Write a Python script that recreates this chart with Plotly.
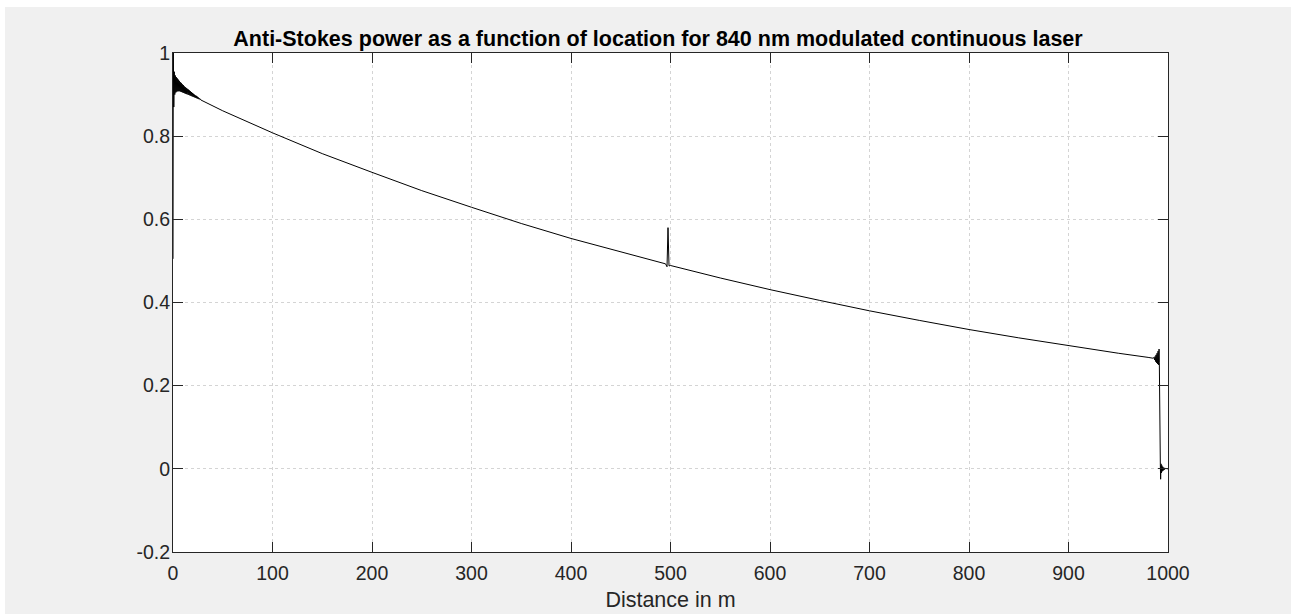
import plotly.graph_objects as go

# ---- data ----
# start-up transient (distance in m, normalised anti-Stokes power)
start_x = [0.0, 0.3, 0.8, 1.3, 1.8, 2.3, 2.8, 3.3, 3.8, 4.3, 4.8, 5.3, 5.8, 6.3, 6.8, 7.3,
           7.8, 8.3, 8.8, 9.3, 9.8, 10.3, 10.8, 11.3, 11.8, 12.3, 12.8, 13.3, 13.8, 14.3,
           15.0, 15.5, 16.0, 16.5, 17.0, 17.5, 18.0, 18.5, 19.0, 19.5, 20.0, 20.5, 21.0,
           21.5, 22.0, 22.5, 23.0, 23.5, 24.0, 24.5, 25.0, 25.5, 26.0, 26.5, 27.0, 27.5, 28.0]
start_y = [0.505, 1.0, 0.870, 0.955, 0.900, 0.946, 0.905, 0.942, 0.907, 0.939, 0.908, 0.936,
           0.908, 0.933, 0.908, 0.930, 0.907, 0.928, 0.906, 0.925, 0.905, 0.923, 0.904, 0.920,
           0.903, 0.918, 0.902, 0.916, 0.901, 0.914, 0.900, 0.912, 0.899, 0.910, 0.898, 0.908,
           0.897, 0.906, 0.896, 0.904, 0.895, 0.902, 0.894, 0.900, 0.893, 0.898, 0.892, 0.897,
           0.891, 0.895, 0.890, 0.893, 0.889, 0.891, 0.888, 0.889, 0.887]

# smooth decay along the fibre, with the reflection spike near 497 m
mid_x = [50, 100, 150, 200, 250, 300, 350, 400, 450, 495, 496.5, 497.5, 498.5, 500,
         550, 600, 650, 700, 750, 800, 850, 900, 950, 980, 985]
mid_y = [0.861, 0.808, 0.758, 0.713, 0.669, 0.629, 0.590, 0.554, 0.521, 0.493, 0.486, 0.580,
         0.488, 0.489, 0.459, 0.431, 0.405, 0.380, 0.357, 0.335, 0.315, 0.296, 0.278, 0.268, 0.266]

# fibre-end transient
end_x = [986.0, 986.5, 987.0, 987.5, 988.0, 988.5, 989.0, 989.5, 990.0, 990.5, 991.0, 991.3,
         992.3, 992.6, 993.0, 993.4, 993.8, 994.2, 994.7, 995.2, 995.8, 996.5, 997.5, 1000.0]
end_y = [0.268, 0.262, 0.270, 0.258, 0.274, 0.255, 0.278, 0.252, 0.283, 0.250, 0.288, 0.255,
         0.010, -0.025, 0.012, -0.010, 0.008, -0.006, 0.005, -0.004, 0.003, -0.002, 0.001, 0.000]

distance = start_x + mid_x + end_x
power = start_y + mid_y + end_y

x_ticks = [0, 100, 200, 300, 400, 500, 600, 700, 800, 900, 1000]
y_ticks = [-0.2, 0, 0.2, 0.4, 0.6, 0.8, 1]
y_tick_text = ["-0.2", "0", "0.2", "0.4", "0.6", "0.8", "1"]

title_text = "Anti-Stokes power as a function of location for 840 nm modulated continuous laser"
x_label = "Distance in m"

FONT = "Liberation Sans, Arial, sans-serif"
AX = "#262626"

fig = go.Figure()
fig.add_trace(go.Scatter(x=distance, y=power, mode="lines",
                         line=dict(color="black", width=1.0), showlegend=False))

axis_common = dict(showline=True, linecolor=AX, linewidth=1, mirror="ticks",
                   ticks="inside", ticklen=10, tickcolor=AX, tickwidth=1,
                   showgrid=True, gridcolor="#d4d4d4", griddash="dot", gridwidth=1,
                   zeroline=False, automargin=False,
                   tickfont=dict(family=FONT, size=19.5, color=AX))

fig.update_xaxes(range=[0, 1000], tickvals=x_ticks, ticktext=[str(v) for v in x_ticks],
                 title=dict(text=x_label, font=dict(family=FONT, size=21.5, color=AX), standoff=8),
                 ticklabelstandoff=4, **axis_common)
fig.update_yaxes(range=[-0.2, 1], tickvals=y_ticks, ticktext=y_tick_text,
                 ticklabelstandoff=-2, **axis_common)

fig.update_layout(
    width=1291, height=614,
    margin=dict(l=173, r=123, t=53, b=62, pad=0),
    paper_bgcolor="#f0f0f0", plot_bgcolor="white",
    title=dict(text="<b>" + title_text + "</b>", x=(658 - 173) / 995, xref="paper",
               xanchor="center", y=1 - 38 / 614, yanchor="middle",
               font=dict(family=FONT, size=21.5, color="black")),
    shapes=[
        dict(type="rect", xref="paper", yref="paper", x0=-0.2, x1=-0.1688, y0=-0.2, y1=1.2,
             fillcolor="white", line=dict(width=0), layer="below"),
        dict(type="rect", xref="paper", yref="paper", x0=-0.2, x1=1.2, y0=1.0922, y1=1.2,
             fillcolor="white", line=dict(width=0), layer="below"),
    ],
)

fig.write_html("out.html", config={"displayModeBar": False},
               post_script=("document.body.style.margin='0';"
                            "document.body.style.overflow='hidden';"
                            "document.body.style.background='#f0f0f0';"
                            "document.documentElement.style.background='#f0f0f0';"))
